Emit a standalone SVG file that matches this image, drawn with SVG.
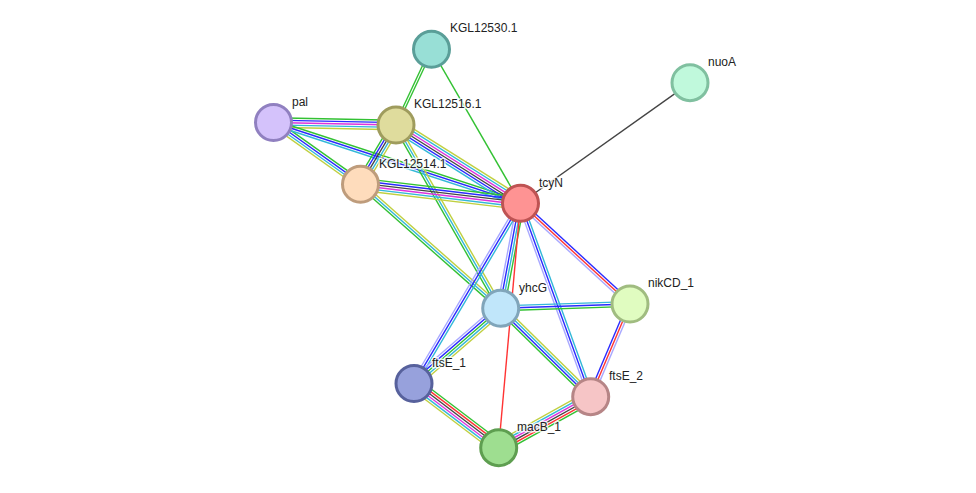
<svg xmlns="http://www.w3.org/2000/svg" width="976" height="493" viewBox="0 0 976 493">
<style>
line{stroke-width:1.4;fill:none}
.g{stroke:#33c133}.b{stroke:#2a2aff}.m{stroke:#dd33dd}.c{stroke:#33b8d8}.y{stroke:#c0d040}.k{stroke:#444}.l{stroke:#a8a8ff}.r{stroke:#ff3333}
circle{stroke-width:3}
text{font-family:"Liberation Sans",Arial,sans-serif;font-size:12px;fill:#222;paint-order:stroke;stroke:#fff;stroke-width:3px;stroke-opacity:0.8;stroke-linejoin:round}
</style>
<rect width="976" height="493" fill="#fff"/>
<g id="edges">
<!-- A-B -->
<g transform="translate(431.5 49.3) rotate(115.1)"><line class="g" x1="0" y1="-1.2" x2="83.6" y2="-1.2"/><line class="g" x1="0" y1="1.2" x2="83.6" y2="1.2"/></g>
<!-- A-T -->
<g transform="translate(431.5 49.3) rotate(60)"><line class="g" x1="0" y1="0" x2="177.9" y2="0"/></g>
<!-- T-N -->
<g transform="translate(520.5 203.3) rotate(-35.4)"><line class="k" x1="0" y1="0" x2="208" y2="0"/></g>
<!-- P-B -->
<g transform="translate(273.5 122.5) rotate(1.17)"><line class="g" x1="0" y1="-4.8" x2="122.5" y2="-4.8"/><line class="b" x1="0" y1="-2.4" x2="122.5" y2="-2.4"/><line class="m" x1="0" y1="0" x2="122.5" y2="0"/><line class="c" x1="0" y1="2.4" x2="122.5" y2="2.4"/><line class="y" x1="0" y1="4.8" x2="122.5" y2="4.8"/></g>
<!-- P-C -->
<g transform="translate(273.5 122.5) rotate(35.4)"><line class="g" x1="0" y1="-3.6" x2="106.7" y2="-3.6"/><line class="b" x1="0" y1="-1.2" x2="106.7" y2="-1.2"/><line class="c" x1="0" y1="1.2" x2="106.7" y2="1.2"/><line class="y" x1="0" y1="3.6" x2="106.7" y2="3.6"/></g>
<!-- P-T -->
<g transform="translate(273.5 122.5) rotate(18.1)"><line class="g" x1="0" y1="-2.4" x2="259.9" y2="-2.4"/><line class="b" x1="0" y1="0" x2="259.9" y2="0"/><line class="c" x1="0" y1="2.4" x2="259.9" y2="2.4"/></g>
<!-- B-C -->
<g transform="translate(396 125) rotate(120.9)"><line class="y" x1="0" y1="-4.8" x2="69.1" y2="-4.8"/><line class="c" x1="0" y1="-2.4" x2="69.1" y2="-2.4"/><line class="k" x1="0" y1="0" x2="69.1" y2="0"/><line class="b" x1="0" y1="2.4" x2="69.1" y2="2.4"/><line class="g" x1="0" y1="4.8" x2="69.1" y2="4.8"/></g>
<!-- B-T -->
<g transform="translate(396 125) rotate(32.2)"><line class="y" x1="0" y1="-6" x2="147.1" y2="-6"/><line class="c" x1="0" y1="-3.6" x2="147.1" y2="-3.6"/><line class="m" x1="0" y1="-1.2" x2="147.1" y2="-1.2"/><line class="k" x1="0" y1="1.2" x2="147.1" y2="1.2"/><line class="b" x1="0" y1="3.6" x2="147.1" y2="3.6"/><line class="c" x1="0" y1="6" x2="147.1" y2="6"/></g>
<!-- B-Y -->
<g transform="translate(396 125) rotate(60.3)"><line class="y" x1="0" y1="-2.4" x2="211.1" y2="-2.4"/><line class="c" x1="0" y1="0" x2="211.1" y2="0"/><line class="g" x1="0" y1="2.4" x2="211.1" y2="2.4"/></g>
<!-- C-T -->
<g transform="translate(360.5 184.3) rotate(6.77)"><line class="g" x1="0" y1="-6" x2="161.1" y2="-6"/><line class="b" x1="0" y1="-3.6" x2="161.1" y2="-3.6"/><line class="k" x1="0" y1="-1.2" x2="161.1" y2="-1.2"/><line class="m" x1="0" y1="1.2" x2="161.1" y2="1.2"/><line class="c" x1="0" y1="3.6" x2="161.1" y2="3.6"/><line class="y" x1="0" y1="6" x2="161.1" y2="6"/></g>
<!-- C-Y -->
<g transform="translate(360.5 184.3) rotate(41.5)"><line class="y" x1="0" y1="-2.4" x2="187.2" y2="-2.4"/><line class="c" x1="0" y1="0" x2="187.2" y2="0"/><line class="g" x1="0" y1="2.4" x2="187.2" y2="2.4"/></g>
<!-- T-Y -->
<g transform="translate(520.5 203.3) rotate(100.7)"><line class="g" x1="0" y1="-3.6" x2="106.9" y2="-3.6"/><line class="c" x1="0" y1="-1.2" x2="106.9" y2="-1.2"/><line class="b" x1="0" y1="1.2" x2="106.9" y2="1.2"/><line class="l" x1="0" y1="3.6" x2="106.9" y2="3.6"/></g>
<!-- T-E1 -->
<g transform="translate(520.5 203.3) rotate(120.6)"><line class="c" x1="0" y1="-2.4" x2="209.3" y2="-2.4"/><line class="b" x1="0" y1="0" x2="209.3" y2="0"/><line class="l" x1="0" y1="2.4" x2="209.3" y2="2.4"/></g>
<!-- T-K -->
<g transform="translate(520.5 203.3) rotate(42.6)"><line class="b" x1="0" y1="-2.4" x2="148.8" y2="-2.4"/><line class="r" x1="0" y1="0" x2="148.8" y2="0"/><line class="l" x1="0" y1="2.4" x2="148.8" y2="2.4"/></g>
<!-- T-E2 -->
<g transform="translate(520.5 203.3) rotate(70.05)"><line class="c" x1="0" y1="-2.4" x2="205.7" y2="-2.4"/><line class="b" x1="0" y1="0" x2="205.7" y2="0"/><line class="l" x1="0" y1="2.4" x2="205.7" y2="2.4"/></g>
<!-- T-M -->
<g transform="translate(520.5 203.3) rotate(95.1)"><line class="r" x1="0" y1="0" x2="245.4" y2="0"/></g>
<!-- Y-K -->
<g transform="translate(500.7 308.3) rotate(-1.9)"><line class="c" x1="0" y1="-2.4" x2="129.4" y2="-2.4"/><line class="b" x1="0" y1="0" x2="129.4" y2="0"/><line class="g" x1="0" y1="2.4" x2="129.4" y2="2.4"/></g>
<!-- Y-E1 -->
<g transform="translate(500.7 308.3) rotate(139.1)"><line class="y" x1="0" y1="-4.8" x2="114.8" y2="-4.8"/><line class="c" x1="0" y1="-2.4" x2="114.8" y2="-2.4"/><line class="g" x1="0" y1="0" x2="114.8" y2="0"/><line class="b" x1="0" y1="2.4" x2="114.8" y2="2.4"/><line class="l" x1="0" y1="4.8" x2="114.8" y2="4.8"/></g>
<!-- Y-E2 -->
<g transform="translate(500.7 308.3) rotate(44.5)"><line class="y" x1="0" y1="-3.6" x2="126.2" y2="-3.6"/><line class="c" x1="0" y1="-1.2" x2="126.2" y2="-1.2"/><line class="b" x1="0" y1="1.2" x2="126.2" y2="1.2"/><line class="g" x1="0" y1="3.6" x2="126.2" y2="3.6"/></g>
<!-- K-E2 -->
<g transform="translate(630 304) rotate(113)"><line class="l" x1="0" y1="-2.4" x2="100.7" y2="-2.4"/><line class="r" x1="0" y1="0" x2="100.7" y2="0"/><line class="b" x1="0" y1="2.4" x2="100.7" y2="2.4"/></g>
<!-- E1-M -->
<g transform="translate(414 383.5) rotate(37.2)"><line class="g" x1="0" y1="-6" x2="106.3" y2="-6"/><line class="r" x1="0" y1="-3.6" x2="106.3" y2="-3.6"/><line class="k" x1="0" y1="-1.2" x2="106.3" y2="-1.2"/><line class="m" x1="0" y1="1.2" x2="106.3" y2="1.2"/><line class="c" x1="0" y1="3.6" x2="106.3" y2="3.6"/><line class="y" x1="0" y1="6" x2="106.3" y2="6"/></g>
<!-- E2-M -->
<g transform="translate(590.7 396.7) rotate(151)"><line class="g" x1="0" y1="-6" x2="105.2" y2="-6"/><line class="r" x1="0" y1="-3.6" x2="105.2" y2="-3.6"/><line class="k" x1="0" y1="-1.2" x2="105.2" y2="-1.2"/><line class="m" x1="0" y1="1.2" x2="105.2" y2="1.2"/><line class="c" x1="0" y1="3.6" x2="105.2" y2="3.6"/><line class="y" x1="0" y1="6" x2="105.2" y2="6"/></g>
</g>
<g id="KGL12530.1"><circle cx="431.5" cy="49.3" r="18" fill="#98dfd6" stroke="#5a9e98"/><text x="450" y="32">KGL12530.1</text></g>
<g id="nuoA"><circle cx="690" cy="82.7" r="18" fill="#c0f9dc" stroke="#80c0a0"/><text x="708" y="66">nuoA</text></g>
<g id="pal"><circle cx="273.5" cy="122.5" r="18" fill="#d4c2fb" stroke="#9080c0"/><text x="292" y="106">pal</text></g>
<g id="KGL12516.1"><circle cx="396" cy="125" r="18" fill="#dfdc9d" stroke="#9f9c5d"/><text x="414" y="108">KGL12516.1</text></g>
<g id="KGL12514.1"><circle cx="360.5" cy="184.3" r="18" fill="#fedcbc" stroke="#be9c7c"/><text x="379" y="168">KGL12514.1</text></g>
<g id="tcyN"><circle cx="520.5" cy="203.3" r="18" fill="#fe9393" stroke="#be5353"/><text x="539" y="187">tcyN</text></g>
<g id="yhcG"><circle cx="500.7" cy="308.3" r="18" fill="#c0e6fa" stroke="#80a5ba"/><text x="519" y="292">yhcG</text></g>
<g id="nikCD_1"><circle cx="630" cy="304" r="18" fill="#e0fcc0" stroke="#a0bc80"/><text x="648" y="287">nikCD_1</text></g>
<g id="ftsE_1"><circle cx="414" cy="383.5" r="18" fill="#97a1dc" stroke="#57619c"/><text x="432" y="367">ftsE_1</text></g>
<g id="ftsE_2"><circle cx="590.7" cy="396.7" r="18" fill="#f6c5c6" stroke="#b68586"/><text x="609" y="380">ftsE_2</text></g>
<g id="macB_1"><circle cx="498.7" cy="447.7" r="18" fill="#9ede90" stroke="#5e9e50"/><text x="517" y="431">macB_1</text></g>
</svg>
